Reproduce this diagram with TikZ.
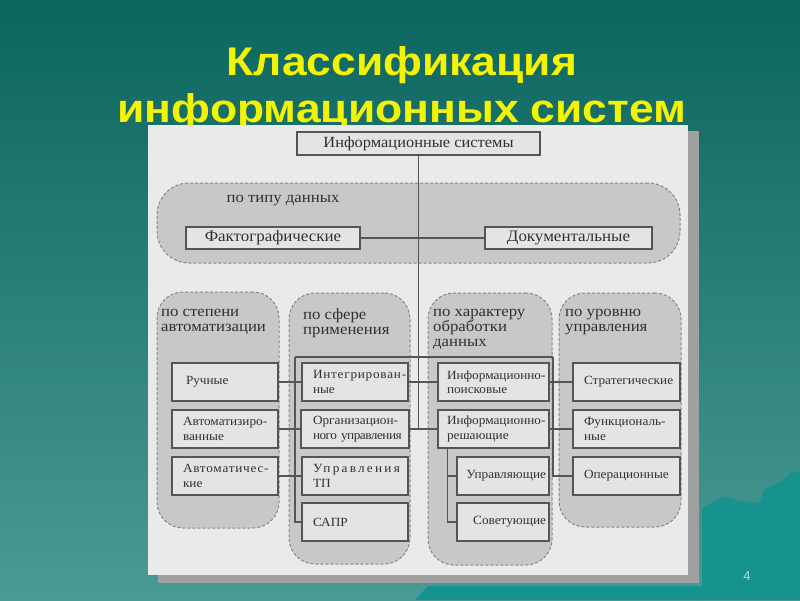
\documentclass[tikz,border=0pt]{standalone}
\usepackage{fontspec}
\setmainfont{Liberation Serif}
\newfontfamily\titlefont[FakeStretch=1.11]{Liberation Sans}
\newfontfamily\pnumfont{Liberation Sans}
\newfontfamily\boxfont[FakeStretch=1.06]{Liberation Serif}
\newfontfamily\labfont[FakeStretch=1.08]{Liberation Serif}
\usetikzlibrary{calc}
\definecolor{bgtop}{HTML}{0C655F}
\definecolor{bgbot}{HTML}{4A9A95}
\definecolor{mount}{HTML}{16938F}
\definecolor{ttl}{HTML}{F4F400}
\definecolor{panel}{HTML}{E9EBEB}
\definecolor{shad}{HTML}{A0A0A0}
\definecolor{grpfill}{HTML}{C8C8C8}
\definecolor{grpline}{HTML}{868686}
\definecolor{boxfill}{HTML}{E4E4E4}
\definecolor{boxline}{HTML}{555555}
\definecolor{txt}{HTML}{303030}
\definecolor{pnum}{HTML}{A8E4E2}
\tikzset{
  box/.style={rectangle, draw=boxline, line width=1.3pt, fill=boxfill, text=txt,
    inner xsep=11pt, inner ysep=1pt, align=left, minimum height=38pt,
    font=\boxfont\fontsize{12.5}{14.5}\selectfont},
  cbox/.style={rectangle, draw=boxline, line width=1.3pt, fill=boxfill, text=txt,
    inner sep=0pt, align=center, font=\boxfont\fontsize{15.5}{16}\selectfont},
  grp/.style={rectangle, draw=grpline, dashed, dash pattern=on 3pt off 2pt, line width=1pt,
    fill=grpfill, rounded corners=26pt},
  glabel/.style={anchor=north west, text=txt, align=left, inner sep=0pt,
    font=\labfont\fontsize{15.5}{15}\selectfont},
  conn/.style={draw=boxline, line width=1.4pt},
  title/.style={text=ttl, font=\titlefont\bfseries\fontsize{40}{44}\selectfont, inner sep=0pt}
}
\begin{document}
\begin{tikzpicture}[x=1pt,y=-1pt]
\useasboundingbox (0,0) rectangle (800,600);
% background
\shade[top color=bgtop, bottom color=bgbot] (0,0) rectangle (800,600);
\fill[mount] (702,600) -- (702,508) -- (724,496) -- (740,501) -- (760,503) -- (764,489)
  -- (781,482) -- (791,472) -- (800,471) -- (800,600) -- cycle;
\fill[mount] (415,600) -- (428,586) -- (702,586) -- (702,600) -- cycle;
% title
\node[title] (t1) at (402,65) {Классификация};
\node[title] (t2) at (402,112) {информационных систем};
% panel
\fill[shad] (158,131) rectangle (699,583);
\fill[panel] (148,125) rectangle (688,575);
\node[text=pnum, font=\pnumfont\fontsize{13}{14}\selectfont] (pn) at (747,576) {4};
% groups
\node[grp, minimum width=523pt, minimum height=80pt, rounded corners=32pt] (gtype) at (418.5,223) {};
\node[grp, minimum width=122pt, minimum height=236pt] (g1) at (218,410) {};
\node[grp, minimum width=121pt, minimum height=271pt] (g2) at (349.5,428.5) {};
\node[grp, minimum width=124pt, minimum height=272pt] (g3) at (490,429) {};
\node[grp, minimum width=122pt, minimum height=234pt] (g4) at (620,410) {};
% group labels
\node[text=txt, font=\labfont\fontsize{15.5}{16}\selectfont] (ltype) at (283,201) {по типу данных};
\node[glabel] (l1) at (161,309) {по степени\\автоматизации};
\node[glabel] (l2) at (303,309) {по сфере\\применения};
\node[glabel] (l3) at (433,309) {по характеру\\обработки\\данных};
\node[glabel] (l4) at (565,309) {по уровню\\управления};
% top boxes
\node[cbox, minimum width=243pt, minimum height=23pt] (is) at (418.5,143.5) {Информационные системы};
\node[cbox, minimum width=174pt, minimum height=22pt, font=\boxfont\fontsize{16}{16}\selectfont] (fact) at (273,238) {Фактографические};
\node[cbox, minimum width=167pt, minimum height=22pt, font=\boxfont\fontsize{16}{16}\selectfont] (doc) at (568.5,238) {Документальные};
% column 1
\node[box, text width=84pt] (r1) at (225,382) {\mbox{\hspace*{3pt}Ручные}};
\node[box, text width=84pt] (r2) at (225,429) {\mbox{Автоматизиро-}\\\mbox{ванные}};
\node[box, text width=84pt] (r3) at (225,476) {\mbox{\addfontfeature{LetterSpace=6}Автоматичес-}\\\mbox{кие}};
% column 2
\node[box, text width=84pt] (int) at (355,382) {\mbox{\addfontfeature{LetterSpace=6}Интегрирован-}\\\mbox{ные}};
\node[box, text width=84pt, inner xsep=12pt] (org) at (355,429) {\mbox{Организацион-}\\\mbox{\addfontfeature{LetterSpace=-4}ного управления}};
\node[box, text width=84pt] (utp) at (355,476) {\mbox{\addfontfeature{LetterSpace=18}Управления}\\\mbox{ТП}};
\node[box, text width=84pt] (sapr) at (355,522) {\mbox{САПР}};
% column 3
\node[box, text width=93pt, inner xsep=9pt] (inf1) at (493.5,382) {\mbox{Информационно-}\\\mbox{поисковые}};
\node[box, text width=93pt, inner xsep=9pt] (inf2) at (493.5,429) {\mbox{Информационно-}\\\mbox{решающие}};
\node[box, text width=86pt, inner xsep=3pt, align=right] (upr) at (503,476) {\mbox{Управляющие}};
\node[box, text width=86pt, inner xsep=3pt, align=right] (sov) at (503,522) {\mbox{Советующие}};
% column 4
\node[box, text width=85pt] (strat) at (626.5,382) {\mbox{Стратегические}};
\node[box, text width=85pt] (func) at (626.5,429) {\mbox{Функциональ-}\\\mbox{ные}};
\node[box, text width=85pt] (oper) at (626.5,476) {\mbox{Операционные}};
% connectors
\coordinate (bl) at (295,357);
\coordinate (br) at (553,357);
\coordinate (sv) at ($(inf2.south west)+(10,0)$);
\draw[conn] (is.south) -- (is.south |- inf2.west);
\draw[conn] (fact.east) -- (doc.west);
\draw[conn] (bl) -- (br);
\draw[conn] (bl) |- (sapr.west);
\draw[conn] (br) |- (oper.west);
\draw[conn] (r1.east) -- (int.west);
\draw[conn] (int.east) -- (inf1.west);
\draw[conn] (inf1.east) -- (strat.west);
\draw[conn] (r2.east) -- (org.west);
\draw[conn] (org.east) -- (inf2.west);
\draw[conn] (inf2.east) -- (func.west);
\draw[conn] (r3.east) -- (utp.west);
\draw[conn] (sv) |- (upr.west);
\draw[conn] (sv) |- (sov.west);
\end{tikzpicture}
\end{document}
